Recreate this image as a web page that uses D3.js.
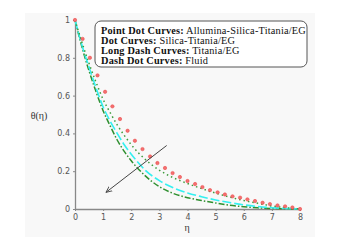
<!DOCTYPE html>
<html lang="en">
<head>
<meta charset="UTF-8">
<title>Temperature profiles</title>
<script src="https://cdn.jsdelivr.net/npm/d3@7"></script>
<style>
    body { margin: 0; padding: 0; background: #ffffff; }
    .tick text { font-family: "DejaVu Sans", sans-serif; font-size: 8px; fill: #555555; }
    .axis path, .axis line { stroke: #888888; }
    .legend text { font-family: "Liberation Serif", serif; font-size: 10.3px; letter-spacing: 0.2px; fill: #111111; }
    .axis-label { font-family: "Liberation Serif", serif; font-size: 10px; fill: #333333; }
</style>
</head>
<body>
<div id="chart"></div>
<script>
// eta values and theta readings for each fluid
var etaRed = [0, 0.27, 0.53, 0.8, 1.07, 1.33, 1.6, 1.87, 2.13, 2.4, 2.67, 2.93, 3.2, 3.47, 3.73,
              4, 4.27, 4.53, 4.8, 5.07, 5.33, 5.6, 5.87, 6.13, 6.4, 6.67, 6.93, 7.2, 7.47, 7.73, 8];
var thetaRed = [1, 0.9, 0.8, 0.707, 0.62, 0.543, 0.476, 0.414, 0.361, 0.317, 0.278, 0.243, 0.217, 0.19, 0.169,
                0.148, 0.132, 0.116, 0.1, 0.088, 0.077, 0.067, 0.06, 0.051, 0.042, 0.033, 0.026, 0.019, 0.014, 0.008, 0];

var etaLine = [0, 0.25, 0.5, 0.75, 1, 1.25, 1.5, 1.75, 2, 2.5, 3, 3.5, 4, 4.5, 5, 5.5, 6, 6.5, 7, 7.5, 8];
var thetaSilica = [1, 0.88, 0.77, 0.67, 0.58, 0.51, 0.445, 0.39, 0.34, 0.262, 0.205, 0.165, 0.135, 0.108, 0.084, 0.063, 0.045, 0.03, 0.016, 0.007, 0];
var thetaTitania = [1, 0.865, 0.75, 0.64, 0.54, 0.465, 0.4, 0.34, 0.29, 0.205, 0.15, 0.112, 0.085, 0.065, 0.048, 0.034, 0.022, 0.013, 0.007, 0.003, 0];
var thetaFluid = [1, 0.855, 0.73, 0.62, 0.52, 0.44, 0.365, 0.305, 0.255, 0.175, 0.118, 0.082, 0.06, 0.045, 0.032, 0.02, 0.012, 0.006, 0.003, 0.001, 0];

var xTicks = [0, 1, 2, 3, 4, 5, 6, 7, 8];
var yTicks = [0, 0.2, 0.4, 0.6, 0.8, 1];

var legendLabels = ["Point Dot Curves:", "Dot Curves:", "Long Dash Curves:", "Dash Dot Curves:"];
var legendNames = [" Allumina-Silica-Titania/EG", " Silica-Titania/EG", " Titania/EG", " Fluid"];

var W = 339, H = 249;
var svg = d3.select("#chart").append("svg")
    .attr("width", W).attr("height", H);

// faint panel behind the plot
svg.append("rect")
    .attr("x", 25).attr("y", 13).attr("width", 290).attr("height", 224)
    .attr("fill", "#f8f8f8");

var x = d3.scaleLinear().domain([0, 8]).range([75, 300]);
var y = d3.scaleLinear().domain([0, 1]).range([209, 20]);

// axes
svg.append("g")
    .attr("class", "axis")
    .attr("transform", "translate(0," + y(0) + ")")
    .call(d3.axisBottom(x).tickValues(xTicks).tickFormat(d3.format("d")).tickSize(2).tickSizeOuter(0));

svg.append("g")
    .attr("class", "axis")
    .attr("transform", "translate(" + x(0) + ",0)")
    .call(d3.axisLeft(y).tickValues(yTicks).tickFormat(function(d) { return d === 0 || d === 1 ? d : d.toFixed(1); }).tickSize(2).tickSizeOuter(0));

svg.selectAll(".axis path").attr("stroke-width", 1.3);

// curves
var line = d3.line()
    .x(function(d) { return x(d[0]); })
    .y(function(d) { return y(d[1]); })
    .curve(d3.curveMonotoneX);

function pairs(xs, ys) { return xs.map(function(v, i) { return [v, ys[i]]; }); }

svg.append("path")
    .datum(pairs(etaLine, thetaFluid))
    .attr("fill", "none").attr("stroke", "#2f8f2f").attr("stroke-width", 1.5)
    .attr("stroke-dasharray", "6,2,1.5,2")
    .attr("d", line);

svg.append("path")
    .datum(pairs(etaLine, thetaTitania))
    .attr("fill", "none").attr("stroke", "#33f0f0").attr("stroke-width", 1.6)
    .attr("stroke-dasharray", "9,3")
    .attr("d", line);

svg.append("path")
    .datum(pairs(etaLine, thetaSilica))
    .attr("fill", "none").attr("stroke", "#3c9c3c").attr("stroke-width", 1.5)
    .attr("stroke-dasharray", "1.5,3")
    .attr("d", line);

svg.selectAll(".pt")
    .data(pairs(etaRed, thetaRed))
    .join("circle")
    .attr("class", "pt")
    .attr("cx", function(d) { return x(d[0]); })
    .attr("cy", function(d) { return y(d[1]); })
    .attr("r", 1.7)
    .attr("fill", "#f47070")
    .attr("stroke", "#e84040").attr("stroke-width", 0.5);

// arrow
svg.append("defs").append("marker")
    .attr("id", "head").attr("viewBox", "0 0 10 10")
    .attr("refX", 9).attr("refY", 5)
    .attr("markerWidth", 7).attr("markerHeight", 7)
    .attr("orient", "auto")
    .append("path").attr("d", "M0,1 L9,5 L0,9").attr("fill", "none").attr("stroke", "#444").attr("stroke-width", 1.2);

svg.append("line")
    .attr("x1", x(3.26)).attr("y1", y(0.336))
    .attr("x2", x(1.1)).attr("y2", y(0.088))
    .attr("stroke", "#444444").attr("stroke-width", 1)
    .attr("marker-end", "url(#head)");

// legend
var lg = svg.append("g").attr("class", "legend");
lg.append("rect")
    .attr("x", 95).attr("y", 21).attr("width", 212).attr("height", 46)
    .attr("rx", 6).attr("fill", "#ffffff").attr("stroke", "#555555").attr("stroke-width", 1);

legendLabels.forEach(function(lab, i) {
    var t = lg.append("text").attr("x", 101).attr("y", 34 + i * 10);
    t.append("tspan").attr("font-weight", "bold").text(lab);
    t.append("tspan").text(legendNames[i]);
});

// axis titles
svg.append("text").attr("class", "axis-label")
    .attr("x", 39).attr("y", 119).attr("text-anchor", "middle")
    .text("θ(η)");

svg.append("text").attr("class", "axis-label")
    .attr("x", 187).attr("y", 231).attr("text-anchor", "middle")
    .text("η");
</script>
</body>
</html>
